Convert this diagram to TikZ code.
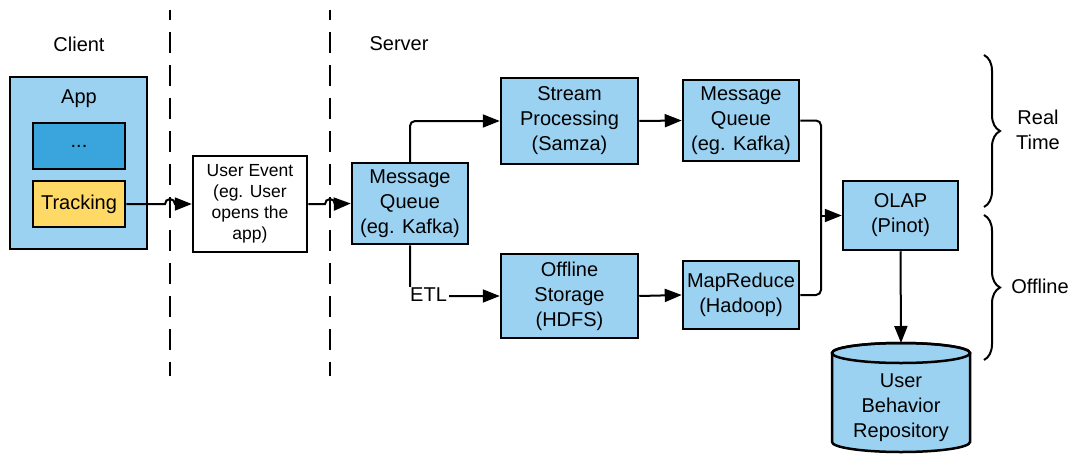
\documentclass[tikz,border=0pt]{standalone}
\usepackage{fontspec}
\setmainfont{Liberation Sans}
\usetikzlibrary{arrows.meta,decorations.pathreplacing}
\definecolor{lblue}{HTML}{9CD2F1}
\definecolor{dblue}{HTML}{3AA5DC}
\definecolor{tyellow}{HTML}{FFD966}
\begin{document}
\begin{tikzpicture}[x=1pt,y=-1pt,
  box/.style={draw=black,line width=2.5pt,fill=lblue,align=center,inner sep=0pt,
    font=\fontsize{20}{25}\selectfont},
  txt/.style={align=center,inner sep=0pt,font=\fontsize{20}{25}\selectfont},
  conn/.style={line width=2pt,rounded corners=5pt,-{Triangle[length=17pt,width=13pt]}},
  divider/.style={line width=2pt,dash pattern=on 21pt off 12pt,dash phase=11pt},
  brc/.style={line width=2pt,decorate,decoration={brace,amplitude=16pt}}
]
\useasboundingbox (0,0) rectangle (1073,455);

% dividers
\draw[divider] (170,10) -- (170,376);
\draw[divider] (330,10) -- (330,376);

% headers
\node[txt] (client) at (79,44) {Client};
\node[txt] (server) at (399,44) {Server};

% app
\node[box,minimum width=137pt,minimum height=172pt] (app) at (78.5,163) {};
\node[txt] (apptitle) at (79,99) {App};
\node[box,fill=dblue,minimum width=92pt,minimum height=46pt] (dots) at (79,146) {...};
\node[box,fill=tyellow,minimum width=92pt,minimum height=46pt] (track) at (79,204) {Tracking};

% user event
\node[box,fill=white,minimum width=114pt,minimum height=96pt,
  font=\fontsize{17.5}{21}\selectfont] (ue) at (250,204) {User Event\\(eg. User\\opens the\\app)};

% server nodes
\node[box,minimum width=116pt,minimum height=81pt] (mq1) at (410,203.5) {Message\\Queue\\(eg. Kafka)};
\node[box,minimum width=137pt,minimum height=86pt] (sp) at (569.5,121) {Stream\\Processing\\(Samza)};
\node[box,minimum width=116pt,minimum height=81pt] (mq2) at (741,120.5) {Message\\Queue\\(eg. Kafka)};
\node[box,minimum width=137pt,minimum height=84pt] (off) at (569.5,296) {Offline\\Storage\\(HDFS)};
\node[box,minimum width=116pt,minimum height=68pt] (mr) at (741,295) {MapReduce\\(Hadoop)};
\node[box,minimum width=115pt,minimum height=69pt] (olap) at (900.5,215.5) {OLAP\\(Pinot)};

% repository cylinder
\filldraw[fill=lblue,draw=black,line width=2.5pt]
  (832,353) -- (832,442) arc[start angle=180,end angle=360,x radius=69pt,y radius=10pt]
  -- (970,353) arc[start angle=0,end angle=180,x radius=69pt,y radius=10pt] -- cycle;
\draw[line width=2.5pt] (901,353) ellipse[x radius=69pt,y radius=10pt];
\coordinate (repotop) at (901,343);
\node[txt] (repo) at (901,408) {User\\Behavior\\Repository};

% connectors with line hops
\coordinate (hopA) at (170,204);
\coordinate (hopB) at (330,204);
\draw[conn,rounded corners=0pt] (track.east) -- ([xshift=-5pt]hopA) arc[start angle=180,end angle=0,radius=5pt] -- (ue.west);
\draw[conn,rounded corners=0pt] (ue.east) -- ([xshift=-5pt]hopB) arc[start angle=180,end angle=0,radius=5pt] -- (mq1.west);

\draw[conn] (mq1.north) |- (sp.west);
\draw[conn] (sp.east) -- (mq2.west);
\draw[conn] (mq1.south) |- (off.west);
\node[txt,anchor=west,fill=white,inner xsep=2pt,inner ysep=1pt] (etl) at (408,295) {ETL};
\draw[conn] (off.east) -- (mr.west);

\coordinate (join) at (821,215.5);
\draw[line width=2pt,rounded corners=5pt] (mq2.east) -| (join);
\draw[line width=2pt,rounded corners=5pt] (mr.east) -| (join);
\draw[conn] ([xshift=-1pt]join) -- (olap.west);
\draw[conn] (olap.south) -- (repotop);

% braces
\draw[brc] (984,55) -- (984,207);
\draw[brc] (984,215) -- (984,360);
\node[txt] (rt) at (1038,130) {Real\\Time};
\node[txt] (offl) at (1040,286) {Offline};
\end{tikzpicture}
\end{document}
